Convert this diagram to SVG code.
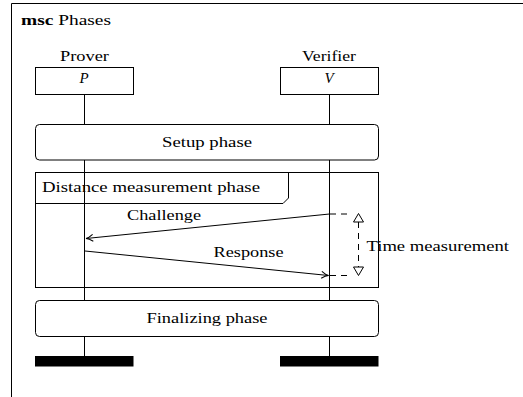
<svg xmlns="http://www.w3.org/2000/svg" width="523" height="397" viewBox="0 0 523 397">
<style>
text{font-family:"Liberation Serif","DejaVu Serif",serif;font-size:15px;fill:#000}
.mid{text-anchor:middle}
.ln{fill:none;stroke:#000;stroke-width:1}
.box{fill:#fff;stroke:#000;stroke-width:1}
.dash{fill:none;stroke:#000;stroke-width:1;stroke-dasharray:6,5}
</style>
<defs>
<marker id="arr" markerWidth="10" markerHeight="10" refX="8" refY="5" orient="auto" markerUnits="userSpaceOnUse">
<path d="M1,1.5 Q5,4.5 8,5 Q5,5.5 1,8.5" fill="none" stroke="#000" stroke-width="1"/>
</marker>
</defs>
<rect width="523" height="397" fill="#fff"/>
<g id="frame">
<path class="ln" d="M11.5,397 V3.5 H523"/>
<text x="21" y="25" textLength="90" lengthAdjust="spacingAndGlyphs"><tspan font-weight="bold">msc</tspan> Phases</text>
</g>
<g id="connectors">
<path class="ln" d="M84.5,94 V124 M329.5,94 V124 M84.5,336 V356 M329.5,336 V356"/>
</g>
<g id="prover">
<text class="mid" x="84.5" y="61" textLength="49" lengthAdjust="spacingAndGlyphs">Prover</text>
<rect class="box" x="35.5" y="67.5" width="98" height="27"/>
<text class="mid" x="84" y="83" font-style="italic">P</text>
<rect x="35" y="356" width="98.5" height="10.5" fill="#000"/>
</g>
<g id="verifier">
<text class="mid" x="329" y="61" textLength="54" lengthAdjust="spacingAndGlyphs">Verifier</text>
<rect class="box" x="280.5" y="67.5" width="98" height="27"/>
<text class="mid" x="329" y="83" font-style="italic">V</text>
<rect x="280" y="356" width="98.5" height="10.5" fill="#000"/>
</g>
<g id="setup">
<rect class="box" x="35.5" y="124.5" width="343" height="35.5" rx="4"/>
<text class="mid" x="207" y="146.5" textLength="90" lengthAdjust="spacingAndGlyphs">Setup phase</text>
</g>
<g id="distance">
<rect class="box" x="35.5" y="172.5" width="343" height="115"/>
<path class="ln" d="M35.5,203.5 H283 L288.5,198 V172.5"/>
<text x="42" y="192" textLength="218" lengthAdjust="spacingAndGlyphs">Distance measurement phase</text>
<path class="ln" d="M84.5,160 V300 M329.5,160 V300"/>
</g>
<g id="messages">
<path class="ln" d="M329.5,214 L86,238.5" marker-end="url(#arr)"/>
<text x="127" y="219.5" textLength="74" lengthAdjust="spacingAndGlyphs">Challenge</text>
<path class="ln" d="M85,251 L328.5,275.5" marker-end="url(#arr)"/>
<text x="213.5" y="257" textLength="70" lengthAdjust="spacingAndGlyphs">Response</text>
</g>
<g id="timing">
<path class="dash" d="M330,214 H352 M330,275.5 H352"/>
<path class="dash" d="M358.5,222 V267" stroke-dasharray="5,4"/>
<path class="box" d="M358.5,213.5 L363.5,222 H353.5 Z"/>
<path class="box" d="M358.5,275.5 L363.5,267 H353.5 Z"/>
<text x="366.5" y="251" textLength="142.5" lengthAdjust="spacingAndGlyphs">Time measurement</text>
</g>
<g id="finalizing">
<rect class="box" x="35.5" y="300.5" width="343" height="36" rx="4"/>
<text class="mid" x="207" y="322.5" textLength="121" lengthAdjust="spacingAndGlyphs">Finalizing phase</text>
</g>
</svg>
